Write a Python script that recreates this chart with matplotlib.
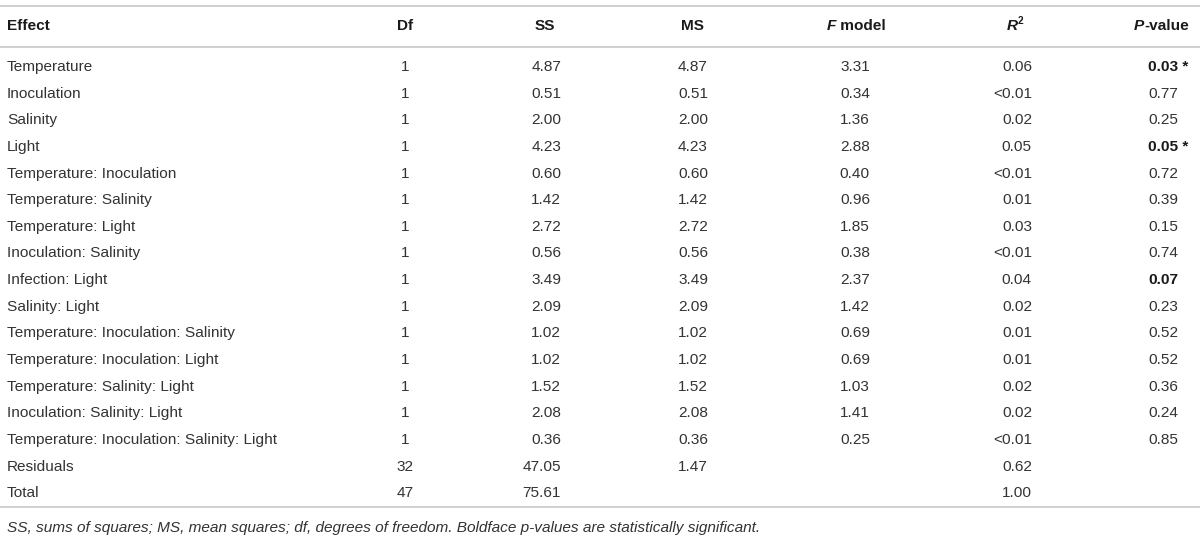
import matplotlib
matplotlib.use("Agg")
import matplotlib.pyplot as plt

plt.rcParams['font.family'] = ['Liberation Sans', 'DejaVu Sans']

# table content
effects = [
    "Temperature", "Inoculation", "Salinity", "Light",
    "Temperature: Inoculation", "Temperature: Salinity", "Temperature: Light",
    "Inoculation: Salinity", "Infection: Light", "Salinity: Light",
    "Temperature: Inoculation: Salinity", "Temperature: Inoculation: Light",
    "Temperature: Salinity: Light", "Inoculation: Salinity: Light",
    "Temperature: Inoculation: Salinity: Light", "Residuals", "Total",
]
df = ["1"] * 15 + ["32", "47"]
ss = ["4.87", "0.51", "2.00", "4.23", "0.60", "1.42", "2.72", "0.56", "3.49",
      "2.09", "1.02", "1.02", "1.52", "2.08", "0.36", "47.05", "75.61"]
ms = ["4.87", "0.51", "2.00", "4.23", "0.60", "1.42", "2.72", "0.56", "3.49",
      "2.09", "1.02", "1.02", "1.52", "2.08", "0.36", "1.47", ""]
f_model = ["3.31", "0.34", "1.36", "2.88", "0.40", "0.96", "1.85", "0.38", "2.37",
           "1.42", "0.69", "0.69", "1.03", "1.41", "0.25", "", ""]
r2 = ["0.06", "<0.01", "0.02", "0.05", "<0.01", "0.01", "0.03", "<0.01", "0.04",
      "0.02", "0.01", "0.01", "0.02", "0.02", "<0.01", "0.62", "1.00"]
p_value = ["0.03 *", "0.77", "0.25", "0.05 *", "0.72", "0.39", "0.15", "0.74", "0.07",
           "0.23", "0.52", "0.52", "0.36", "0.24", "0.85", "", ""]
significant = ["0.03 *", "0.05 *", "0.07"]

footnote = ("SS, sums of squares; MS, mean squares; df, degrees of freedom. "
            "Boldface p-values are statistically significant.")

txt = '#333333'
head = '#1a1a1a'
rule = '#cccccc'
fs = 11.1

fig = plt.figure(figsize=(12, 5.44), dpi=100)
ax = fig.add_axes([0, 0, 1, 1])
ax.set_xlim(0, 1200)
ax.set_ylim(544, 0)
ax.axis('off')

# horizontal rules
ax.axhline(6, color=rule, lw=1.3)
ax.axhline(47, color=rule, lw=1.3)
ax.axhline(507, color=rule, lw=1.3)

# header
hy = 26
hb = dict(va='center', fontsize=fs, fontweight='bold', color=head)
ax.text(7, hy, "Effect", ha='left', **hb)
ax.text(405, hy, "Df", ha='center', **hb)
ax.text(545, hy, "SS", ha='center', **hb)
ax.text(693, hy, "MS", ha='center', **hb)
ax.text(836, hy, "F", ha='right', fontstyle='italic', **hb)
ax.text(836, hy, " model", ha='left', **hb)
ax.text(1018, hy, "R", ha='right', fontstyle='italic', **hb)
ax.text(1018, hy - 5, "2", ha='left', va='center', fontsize=fs * 0.65,
        fontweight='bold', color=head)
ax.text(1144, hy, "P", ha='right', fontstyle='italic', **hb)
ax.text(1144, hy, "-value", ha='left', **hb)

# rows
y0, step = 67, 26.64
for i, name in enumerate(effects):
    y = y0 + i * step
    ax.text(7, y, name, ha='left', va='center', fontsize=fs, color=txt)
    ax.text(405, y, df[i], ha='center', va='center', fontsize=fs, color=txt)
    ax.text(561, y, ss[i], ha='right', va='center', fontsize=fs, color=txt)
    ax.text(708, y, ms[i], ha='right', va='center', fontsize=fs, color=txt)
    ax.text(870, y, f_model[i], ha='right', va='center', fontsize=fs, color=txt)
    ax.text(1032, y, r2[i], ha='right', va='center', fontsize=fs, color=txt)
    if p_value[i] in significant:
        ax.text(1148, y, p_value[i], ha='left', va='center', fontsize=fs,
                fontweight='bold', color=head)
    else:
        ax.text(1148, y, p_value[i], ha='left', va='center', fontsize=fs, color=txt)

ax.text(7, 528, footnote, ha='left', va='center', fontsize=fs, fontstyle='italic', color=txt)

fig.savefig("out.png", dpi=100)
